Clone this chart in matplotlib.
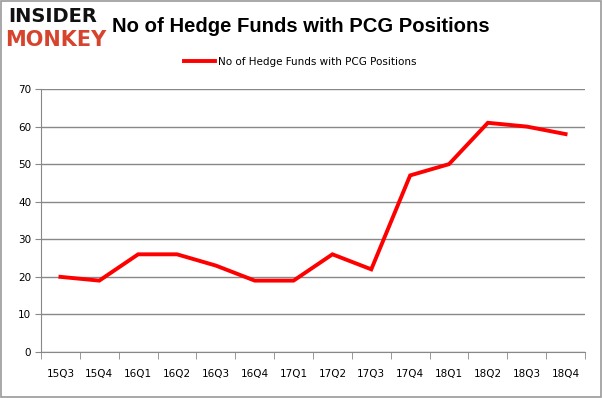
import matplotlib
matplotlib.use("Agg")
import matplotlib.pyplot as plt
import numpy as np
from matplotlib.patches import Rectangle

quarters = ["15Q3", "15Q4", "16Q1", "16Q2", "16Q3", "16Q4", "17Q1", "17Q2",
            "17Q3", "17Q4", "18Q1", "18Q2", "18Q3", "18Q4"]
funds = [20, 19, 26, 26, 23, 19, 19, 26, 22, 47, 50, 61, 60, 58]
series_name = "No of Hedge Funds with PCG Positions"
title = "No of Hedge Funds with PCG Positions"
yticks = [0, 10, 20, 30, 40, 50, 60, 70]

plt.rcParams['font.family'] = ['DejaVu Sans']

fig = plt.figure(figsize=(6.02, 3.98), dpi=100)
ax = fig.add_axes([41/602, 1-352/398, (585-41)/602, (352-89)/398])

x = np.arange(len(quarters))
line, = ax.plot(x, funds, color="#ff0000", lw=2.8, solid_joinstyle="miter", label=series_name)

ax.set_xlim(-0.5, len(quarters)-0.5)
ax.set_ylim(0, 70)
ax.set_yticks(yticks)
ax.yaxis.grid(True, color="#888888", lw=1)
ax.set_axisbelow(True)
ax.set_xticks(x)
ax.set_xticklabels(quarters, fontsize=7.5)
ax.tick_params(axis="x", length=0, pad=12)
ax.set_xticks(np.arange(-0.5, len(quarters), 1), minor=True)
ax.tick_params(axis="x", which="minor", length=5, color="#888888", direction="out")
ax.tick_params(axis="y", labelsize=7.5, length=4, color="#888888", pad=3)
for s in ["top", "right"]:
    ax.spines[s].set_visible(False)
for s in ["left", "bottom"]:
    ax.spines[s].set_color("#888888")

fig.text(301/602, 1-26/398, title, fontsize=14.6, fontweight="bold", ha="center", va="center",
         family=["Liberation Sans", "DejaVu Sans"])
fig.text(8/602, 1-17/398, "INSIDER", fontsize=14, fontweight="black", color="#111111", ha="left", va="center")
fig.text(5/602, 1-40/398, "MONKEY", fontsize=15, fontweight="black", color="#d6442e", ha="left", va="center")

leg = fig.legend(handles=[line], loc="center", bbox_to_anchor=(300/602, 1-62/398), frameon=False,
                 fontsize=7.5, handlelength=3.0, handletextpad=0.3)

fig.add_artist(Rectangle((0.001, 0.002), 0.997, 0.995, transform=fig.transFigure, fill=False,
                         edgecolor="#999999", lw=1.2))

fig.savefig("out.png", dpi=100)
